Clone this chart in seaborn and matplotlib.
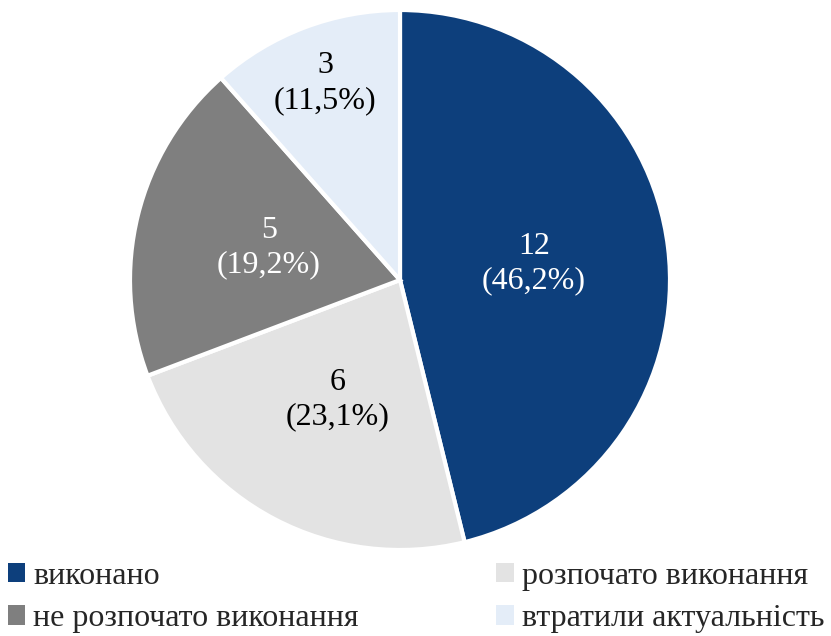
import matplotlib
matplotlib.use("Agg")
import numpy as np
import matplotlib.pyplot as plt
import seaborn as sns
from matplotlib.patches import Patch

# data
categories = ['виконано', 'розпочато виконання', 'не розпочато виконання', 'втратили актуальність']
counts = [12, 6, 5, 3]
colors = ['#0d3f7c', '#e3e3e3', '#7f7f7f', '#e4edf8']
label_colors = ['white', 'black', 'white', 'black']
label_dist = [0.5, 0.5, 0.5, 0.78]

sns.set_theme(style="white")
plt.rcParams['font.family'] = 'serif'
plt.rcParams['font.serif'] = ['Liberation Serif', 'DejaVu Serif']

fig = plt.figure(figsize=(8.31, 6.36), dpi=100)
ax = fig.add_axes([130 / 831, 86 / 636, 540 / 831, 540 / 636])

total = sum(counts)
labels = [f"{c}\n({c / total * 100:.1f}%)".replace('.', ',') for c in counts]

wedges, texts = ax.pie(counts, colors=colors, startangle=90, counterclock=False,
                       labels=labels, labeldistance=0.5,
                       wedgeprops=dict(edgecolor='white', linewidth=3),
                       textprops=dict(fontsize=23, ha='center', va='center', linespacing=1.25))
for w, t, c, d in zip(wedges, texts, label_colors, label_dist):
    t.set_color(c)
    ang = np.deg2rad((w.theta1 + w.theta2) / 2)
    t.set_position((d * np.cos(ang), d * np.sin(ang)))
ax.set_aspect('equal')
ax.set_xlim(-1.0, 1.0)
ax.set_ylim(-1.0, 1.0)

# legend rows: виконано / розпочато, не розпочато / втратили
order = [0, 2, 1, 3]
handles = [Patch(facecolor=colors[i], edgecolor='none', label=categories[i]) for i in order]
fig.legend(handles=handles, ncol=2, loc='lower left', bbox_to_anchor=(-0.006, -0.016),
           frameon=False, fontsize=23, handlelength=0.55, handleheight=0.55,
           handletextpad=0.25, columnspacing=4.3, labelspacing=0.42, borderaxespad=0)

fig.savefig('out.png', dpi=100, facecolor='white')
